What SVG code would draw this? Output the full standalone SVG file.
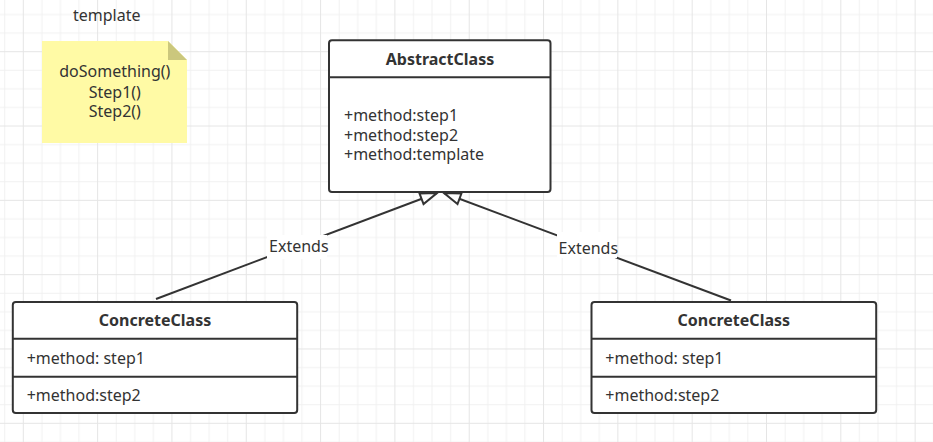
<svg xmlns="http://www.w3.org/2000/svg" width="933" height="442" viewBox="0 0 933 442">
  <style>
    text { font-family: "Noto Sans", "Open Sans", sans-serif; font-size: 16px; fill: #333333; }
    .title { font-weight: bold; text-anchor: middle; }
    .mid { text-anchor: middle; }
    .box { fill: #ffffff; stroke: #333333; stroke-width: 2; }
    .div { stroke: #333333; stroke-width: 2; }
    .edge { fill: none; stroke: #333333; stroke-width: 2; }
    .lbl-bg { fill: #ffffff; }
  </style>
  <defs>
    <pattern id="grid" patternUnits="userSpaceOnUse" x="22.8" y="51.2" width="74.32" height="74.32">
      <path d="M19.08,0 V74.32 M37.66,0 V74.32 M56.24,0 V74.32 M0,19.08 H74.32 M0,37.66 H74.32 M0,56.24 H74.32" stroke="#f1f1f1" stroke-width="1" fill="none"/>
      <path d="M0.5,0 V74.32 M0,0.5 H74.32" stroke="#e5e5e5" stroke-width="1" fill="none"/>
    </pattern>
    <marker id="inherit" markerUnits="userSpaceOnUse" markerWidth="22" markerHeight="16" refX="18" refY="7" orient="auto" overflow="visible">
      <path d="M1.5,1.4 L18,7 L1.5,12.6 Z" fill="#ffffff" stroke="#333333" stroke-width="2" stroke-linejoin="miter"/>
    </marker>
  </defs>

  <!-- background grid -->
  <rect width="933" height="442" fill="#ffffff"/>
  <rect width="933" height="442" fill="url(#grid)"/>

  <!-- caption -->
  <text x="106.7" y="21" class="mid">template</text>

  <!-- note -->
  <g id="note">
    <path d="M42,41 H168 L187,60 V143 H42 Z" fill="#fffaa5"/>
    <path d="M168,41 V60 H187 Z" fill="#cbc77d"/>
    <text class="mid" x="114.8" y="77.3">doSomething()<tspan x="114.8" y="98.3">Step1()</tspan><tspan x="114.8" y="117.3">Step2()</tspan></text>
  </g>

  <!-- connectors -->
  <g id="connectors">
    <path class="edge" d="M156,299 L437,193" marker-end="url(#inherit)"/>
    <path class="edge" d="M731,300.5 L444,193" marker-end="url(#inherit)"/>
    <rect class="lbl-bg" x="267" y="235" width="60" height="24"/>
    <text x="298.8" y="252.3" class="mid">Extends</text>
    <rect class="lbl-bg" x="557" y="232" width="60" height="26"/>
    <text x="588.3" y="254.3" class="mid">Extends</text>
  </g>

  <!-- abstract class -->
  <g id="abstract-class">
    <rect class="box" x="329" y="40.3" width="221.5" height="151.7" rx="3"/>
    <line class="div" x1="329" y1="77.3" x2="550.5" y2="77.3"/>
    <text x="440" y="65" class="title">AbstractClass</text>
    <text x="344" y="121">+method:step1<tspan x="344" y="141">+method:step2</tspan><tspan x="344" y="160">+method:template</tspan></text>
  </g>

  <!-- concrete class, left -->
  <g id="concrete-left">
    <rect class="box" x="12.8" y="302" width="284.4" height="111" rx="3"/>
    <line class="div" x1="12.8" y1="338.7" x2="297.2" y2="338.7"/>
    <line class="div" x1="12.8" y1="376.7" x2="297.2" y2="376.7"/>
    <text x="155" y="326" class="title">ConcreteClass</text>
    <text x="26.7" y="364">+method: step1</text>
    <text x="26.7" y="401">+method:step2</text>
  </g>

  <!-- concrete class, right -->
  <g id="concrete-right">
    <rect class="box" x="591.5" y="302" width="284.7" height="111" rx="3"/>
    <line class="div" x1="591.5" y1="338.7" x2="876.2" y2="338.7"/>
    <line class="div" x1="591.5" y1="376.7" x2="876.2" y2="376.7"/>
    <text x="733.8" y="326" class="title">ConcreteClass</text>
    <text x="605.3" y="364">+method: step1</text>
    <text x="605.3" y="401">+method:step2</text>
  </g>
</svg>
